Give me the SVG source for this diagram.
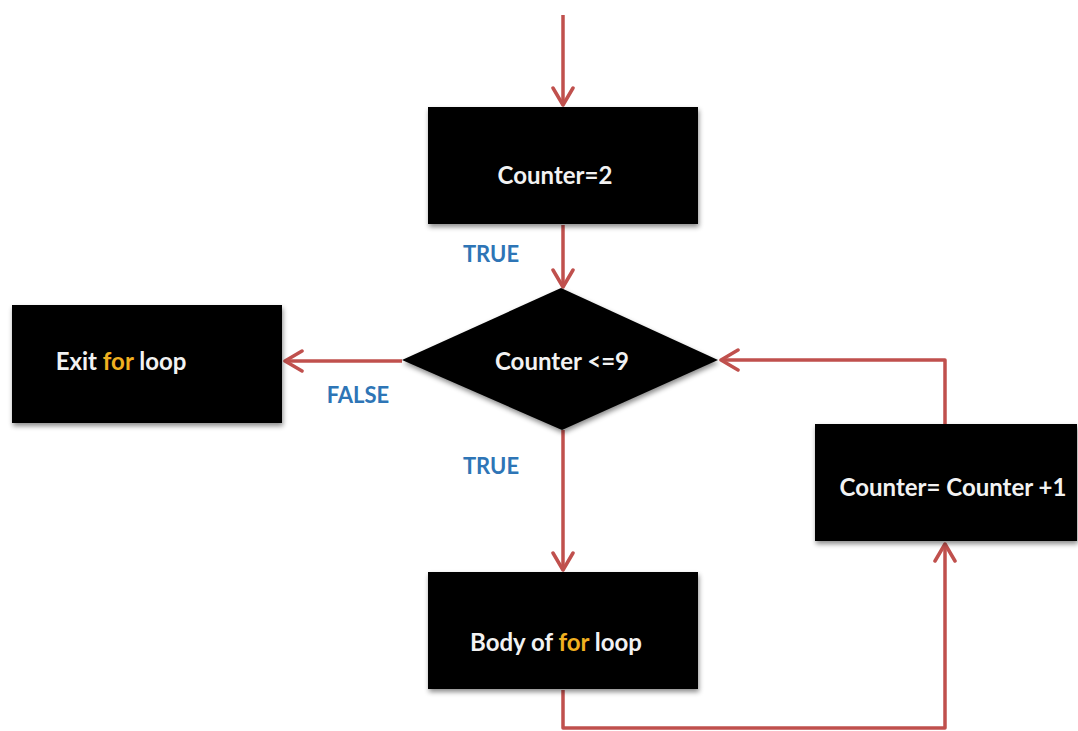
<svg xmlns="http://www.w3.org/2000/svg" width="1078" height="731" viewBox="0 0 1078 731">
<style>
.node{fill:#000;filter:url(#sh)}
.t{font-family:Lato,"Liberation Sans",sans-serif;font-weight:bold;font-size:24px;fill:#f2f2f2;text-anchor:middle}
.k{fill:#f0b020}
.lbl{font-family:Lato,"Liberation Sans",sans-serif;font-weight:bold;font-size:22px;fill:#2e75b6;text-anchor:middle}
.c{fill:none;stroke:#c0504d;stroke-width:3.5;stroke-linejoin:round}
</style>
<defs>
<filter id="sh" x="-10%" y="-10%" width="120%" height="130%">
<feGaussianBlur in="SourceAlpha" stdDeviation="2.5"/>
<feOffset dx="1" dy="3" result="b"/>
<feFlood flood-color="#000" flood-opacity="0.45"/>
<feComposite in2="b" operator="in"/>
<feMerge><feMergeNode/><feMergeNode in="SourceGraphic"/></feMerge>
</filter>
<linearGradient id="bev" x1="0" y1="0" x2="0" y2="1">
<stop offset="0" stop-color="#5a5a5a"/>
<stop offset="0.07" stop-color="#0a0a0a"/>
<stop offset="1" stop-color="#000"/>
</linearGradient>
<marker id="ah" viewBox="-20 -12 24 24" refX="0" refY="0" markerWidth="24" markerHeight="24" markerUnits="userSpaceOnUse" orient="auto">
<path d="M-17,-10 L0,0 L-17,10" fill="none" stroke="#c0504d" stroke-width="3.5" stroke-linecap="round" stroke-linejoin="round"/>
</marker>
</defs>
<g id="connectors">
<path class="c" d="M563,15 V105" marker-end="url(#ah)"/>
<path class="c" d="M563,225 V287" marker-end="url(#ah)"/>
<path class="c" d="M402,361 H285" marker-end="url(#ah)"/>
<path class="c" d="M563,430 V570" marker-end="url(#ah)"/>
<path class="c" d="M563,690 V728 H945 V544" marker-end="url(#ah)"/>
<path class="c" d="M945,424 V360 H721" marker-end="url(#ah)"/>
</g>
<g id="lbl-true1"><text class="lbl" x="491" y="262">TRUE</text></g>
<g id="lbl-false"><text class="lbl" x="358" y="403">FALSE</text></g>
<g id="lbl-true2"><text class="lbl" x="491" y="474">TRUE</text></g>
<g id="n-init">
<rect class="node" x="428" y="107" width="270" height="117" fill="url(#bev)"/>
<text class="t" x="555" y="184">Counter=2</text>
</g>
<g id="n-cond">
<polygon class="node" points="561,288 718,360 562,430 402,360"/>
<text class="t" x="562" y="370">Counter &lt;=9</text>
</g>
<g id="n-exit">
<rect class="node" x="12" y="305" width="270" height="118" fill="url(#bev)"/>
<text class="t" x="121" y="370">Exit <tspan class="k">for</tspan> loop</text>
</g>
<g id="n-inc">
<rect class="node" x="815" y="424" width="262" height="117" fill="url(#bev)"/>
<text class="t" x="953" y="496">Counter= Counter +1</text>
</g>
<g id="n-body">
<rect class="node" x="428" y="572" width="270" height="117" fill="url(#bev)"/>
<text class="t" x="556" y="651">Body of <tspan class="k">for</tspan> loop</text>
</g>
</svg>
